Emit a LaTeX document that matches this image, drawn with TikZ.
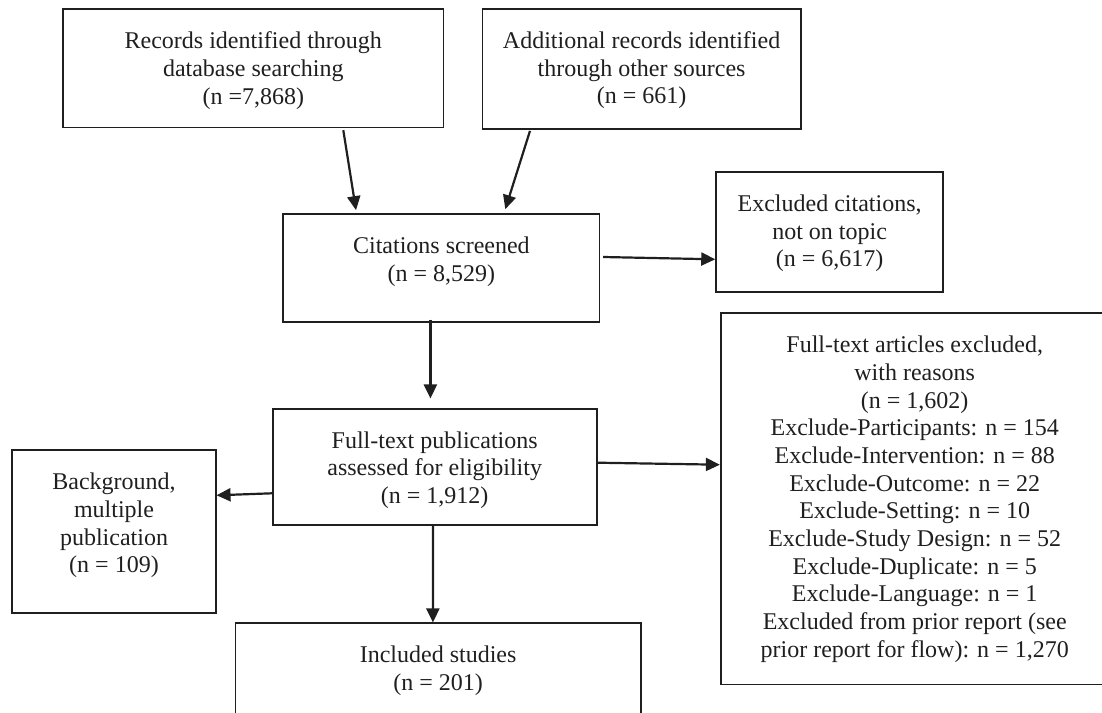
\documentclass[tikz,border=0pt]{standalone}
\usepackage{fontspec}
\setmainfont{Liberation Serif}
\usetikzlibrary{arrows.meta}
\begin{document}
\begin{tikzpicture}[x=1pt,y=-1pt,
  box/.style={draw=black!88, line width=1.7pt, inner sep=0pt, rectangle},
  txt/.style={font=\fontsize{24}{27.7}\selectfont, text=black!88, align=center, inner sep=0pt, anchor=base},
  arr/.style={draw=black!88, line width=2.2pt, -{Triangle[length=14pt,width=13pt]}}]
\useasboundingbox (0,0) rectangle (1102,712);
% boxes
\node[box, minimum width=380.2pt, minimum height=118.3pt] (b1) at (253.3,68.2) {};
\node[box, minimum width=318.4pt, minimum height=120pt] (b2) at (641.6,69) {};
\node[box, minimum width=316.3pt, minimum height=108pt] (b3) at (441.4,268) {};
\node[box, minimum width=227pt, minimum height=120pt] (b4) at (829.6,232) {};
\node[box, minimum width=388pt, minimum height=371.3pt] (b5) at (914.7,498.7) {};
\node[box, minimum width=324pt, minimum height=116.6pt] (b6) at (434.7,467) {};
\node[box, minimum width=203.4pt, minimum height=162.7pt] (b7) at (114,531.4) {};
\node[box, minimum width=405.2pt, minimum height=117pt] (b8) at (438.1,681.8) {};
% texts (base anchor = baseline of last line)
\node[txt] (t1) at ([yshift=-95.8pt]b1.north) {Records identified through\\database searching\\(n =7,868)};
\node[txt] (t2) at ([yshift=-95.8pt]b2.north) {Additional records identified\\through other sources\\(n = 661)};
\node[txt] (t3) at ([yshift=-68.1pt]b3.north) {Citations screened\\(n = 8,529)};
\node[txt] (t4) at ([yshift=-95.8pt]b4.north) {Excluded citations,\\not on topic\\(n = 6,617)};
\node[txt] (t5) at ([yshift=-345.1pt]b5.north) {Full-text articles excluded,\\with reasons\\(n = 1,602)\\Exclude-Participants: n = 154\\Exclude-Intervention: n = 88\\Exclude-Outcome: n = 22\\Exclude-Setting: n = 10\\Exclude-Study Design: n = 52\\Exclude-Duplicate: n = 5\\Exclude-Language: n = 1\\Excluded from prior report (see\\prior report for flow): n = 1,270};
\node[txt] (t6) at ([yshift=-95.8pt]b6.north) {Full-text publications\\assessed for eligibility\\(n = 1,912)};
\node[txt] (t7) at ([yshift=-123.5pt]b7.north) {Background,\\multiple\\publication\\(n = 109)};
\node[txt] (t8) at ([yshift=-68.1pt]b8.north) {Included studies\\(n = 201)};
% connectors
\draw[arr] ([xshift=90pt,yshift=-2pt]b1.south) -- ([xshift=-85.4pt,yshift=3pt]b3.north);
\draw[arr] ([xshift=-111.6pt,yshift=-1pt]b2.south) -- ([xshift=63.9pt,yshift=4pt]b3.north);
\draw[arr] ([xshift=2.8pt,yshift=11pt]b3.east) -- ([yshift=-27.3pt]b4.west);
\draw[arr] ([xshift=-11pt,yshift=3.3pt]b3.south) -- ([xshift=-4.3pt,yshift=9.4pt]b6.north);
\draw[arr] ([yshift=-26.3pt]b6.west) -- ([yshift=36.1pt]b7.east);
\draw[arr] ([yshift=4.3pt]b6.east) -- ([yshift=34pt]b5.west);
\draw[arr] ([xshift=-1.8pt]b6.south) -- ([xshift=-5.2pt]b8.north);
\end{tikzpicture}
\end{document}
